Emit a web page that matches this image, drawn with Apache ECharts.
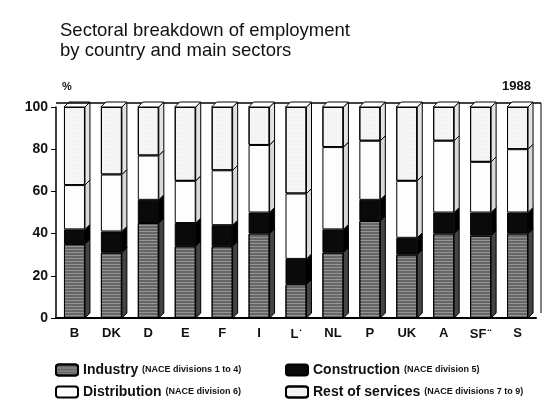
<!DOCTYPE html>
<html>
<head>
<meta charset="utf-8">
<script src="https://cdn.jsdelivr.net/npm/echarts@6/dist/echarts.min.js"></script>
<style>
html,body{margin:0;padding:0;background:#fff}
#main{width:549px;height:402px}
</style>
</head>
<body>
<div id="main"></div>
<script>
// 1988, % of employment per country
var countries = ['B', 'DK', 'D', 'E', 'F', 'I', 'L*', 'NL', 'P', 'UK', 'A', 'SF**', 'S'];
var industry = [35, 31, 45, 34, 34, 40, 16, 31, 46, 30, 40, 39, 40];
var construction = [7, 10, 11, 11, 10, 10, 12, 11, 10, 8, 10, 11, 10];
var distribution = [21, 27, 21, 20, 26, 32, 31, 39, 28, 27, 34, 24, 30];
var restServices = [37, 32, 23, 35, 30, 18, 41, 19, 16, 35, 16, 26, 20];
var yTicks = [0, 20, 40, 60, 80, 100];

var notes = {
    'Industry': '(NACE divisions 1 to 4)',
    'Construction': '(NACE division 5)',
    'Distribution': '(NACE division 6)',
    'Rest of services': '(NACE divisions 7 to 9)'
};

var barW = 21, dx = 5, dy = 5;
var sideColors = ['#444', '#000', '#d8d8d8', '#e4e4e4'];

var myChart = echarts.init(document.getElementById('main'));

// side + top faces of the bars, and the back wall line
function render3d(params, api) {
    var i = api.value(0);
    var segs = [industry[i], construction[i], distribution[i], restServices[i]];
    var children = [];
    var base = 0;
    var xr = api.coord([i, 0])[0] + barW / 2;
    for (var k = 0; k < segs.length; k++) {
        var yb = api.coord([i, base])[1];
        var yt = api.coord([i, base + segs[k]])[1];
        children.push({
            type: 'polygon',
            shape: {points: [[xr, yb], [xr, yt], [xr + dx, yt - dy], [xr + dx, yb - dy]]},
            style: {fill: sideColors[k], stroke: '#000', lineWidth: 1}
        });
        base += segs[k];
    }
    var ytop = api.coord([i, base])[1];
    var xl = xr - barW;
    children.push({
        type: 'polygon',
        shape: {points: [[xl, ytop], [xl + dx, ytop - dy], [xr + dx, ytop - dy], [xr, ytop]]},
        style: {fill: '#fff', stroke: '#000', lineWidth: 1}
    });
    if (params.dataIndex === 0) {
        var cs = params.coordSys;
        children.push({
            type: 'line',
            shape: {x1: cs.x, y1: cs.y - dy + 1, x2: cs.x + cs.width + dx, y2: cs.y - dy + 1},
            style: {stroke: '#000', lineWidth: 1.5}
        });
        children.push({
            type: 'line',
            shape: {x1: cs.x + cs.width + dx, y1: cs.y - dy + 1, x2: cs.x + cs.width + dx, y2: cs.y + cs.height - dy},
            style: {stroke: '#000', lineWidth: 1}
        });
    }
    return {type: 'group', children: children};
}

function legendText(name) {
    return name + ' {s|' + notes[name] + '}';
}

var legendFont = {fontFamily: 'Liberation Sans', fontSize: 14, fontWeight: 'bold', color: '#111',
    rich: {s: {fontFamily: 'Liberation Sans', fontSize: 9, fontWeight: 'bold', color: '#111'}}};

var option = {
    animation: false,
    title: {
        text: 'Sectoral breakdown of employment\nby country and main sectors',
        left: 55,
        top: 16,
        textStyle: {fontFamily: 'Liberation Sans', fontSize: 18.5, fontWeight: 'normal', color: '#111', lineHeight: 20}
    },
    graphic: [
        {type: 'text', left: 62, top: 81, style: {text: '%', font: 'bold 11px "Liberation Sans"', fill: '#111'}},
        {type: 'text', right: 18, top: 80, style: {text: '1988', font: 'bold 13px "Liberation Sans"', fill: '#111'}}
    ],
    legend: [{
        data: ['Industry', 'Distribution'],
        orient: 'vertical',
        left: 55,
        top: 363,
        padding: 0,
        itemWidth: 22,
        itemHeight: 11,
        itemGap: 8,
        formatter: legendText,
        textStyle: legendFont
    }, {
        data: ['Construction', 'Rest of services'],
        orient: 'vertical',
        left: 285,
        top: 363,
        padding: 0,
        itemWidth: 22,
        itemHeight: 11,
        itemGap: 8,
        formatter: legendText,
        textStyle: legendFont
    }],
    grid: {left: 56, right: 13, top: 107, bottom: 84},
    xAxis: {
        type: 'category',
        data: countries,
        axisLine: {lineStyle: {color: '#000', width: 2}},
        axisTick: {alignWithLabel: true, length: 6, lineStyle: {color: '#000'}},
        axisLabel: {
            interval: 0,
            margin: 9,
            fontFamily: 'Liberation Sans', fontSize: 13, fontWeight: 'bold', color: '#111',
            formatter: function (v) {
                var m = v.match(/^([A-Z]+)(\**)$/);
                return m[2] ? m[1] + '{sup|' + m[2].replace(/\*/g, '•') + '}' : v;
            },
            rich: {sup: {fontSize: 6, fontWeight: 'bold', color: '#111', padding: [0, 0, 9, 1]}}
        }
    },
    yAxis: {
        type: 'value',
        min: yTicks[0],
        max: yTicks[yTicks.length - 1],
        interval: 20,
        axisLine: {show: true, lineStyle: {color: '#000', width: 1.5}},
        axisTick: {show: true, length: 5, lineStyle: {color: '#000'}},
        splitLine: {show: false},
        axisLabel: {margin: 8, fontFamily: 'Liberation Sans', fontSize: 14, fontWeight: 'bold', color: '#111'}
    },
    series: [{
        name: 'Industry',
        type: 'bar',
        stack: 'all',
        barWidth: barW,
        data: industry,
        itemStyle: {
            color: '#666', borderColor: '#000', borderWidth: 1,
            decal: {symbol: 'rect', symbolSize: 1, dashArrayX: [1, 0], dashArrayY: [1, 1.5], color: 'rgba(255,255,255,0.3)'}
        }
    }, {
        name: 'Construction',
        type: 'bar',
        stack: 'all',
        barWidth: barW,
        data: construction,
        itemStyle: {color: '#0a0a0a', borderColor: '#000', borderWidth: 1}
    }, {
        name: 'Distribution',
        type: 'bar',
        stack: 'all',
        barWidth: barW,
        data: distribution,
        itemStyle: {color: '#fdfdfd', borderColor: '#000', borderWidth: 1}
    }, {
        name: 'Rest of services',
        type: 'bar',
        stack: 'all',
        barWidth: barW,
        data: restServices,
        itemStyle: {
            color: '#f6f6f6', borderColor: '#000', borderWidth: 1,
            decal: {symbol: 'circle', symbolSize: 0.5, dashArrayX: [1, 2], dashArrayY: [2, 2], color: '#9a9a9a'}
        }
    }, {
        type: 'custom',
        renderItem: render3d,
        data: countries.map(function (c, i) { return [i, 100]; }),
        encode: {x: 0, y: 1},
        z: 3,
        silent: true
    }]
};
myChart.setOption(option);
</script>
</body>
</html>
